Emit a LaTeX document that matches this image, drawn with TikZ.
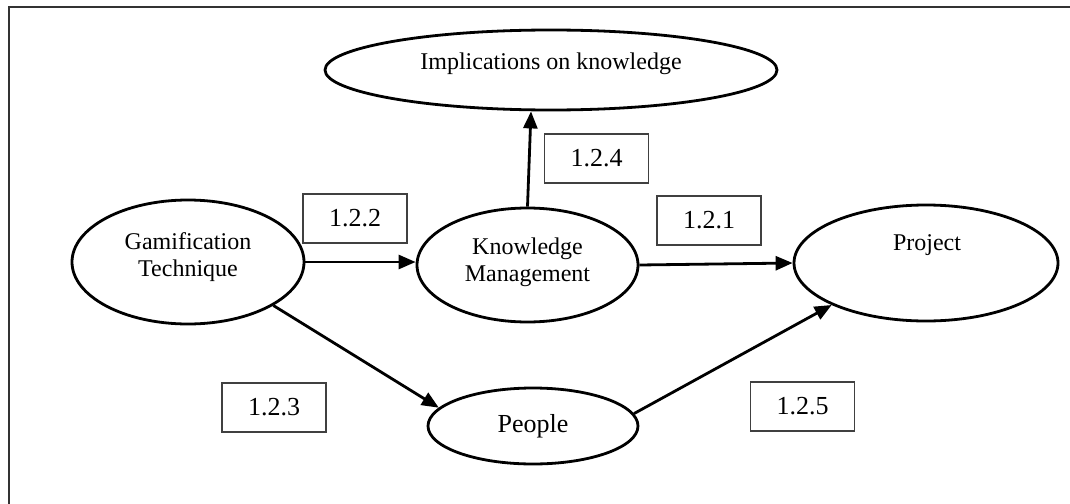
\documentclass[tikz,border=0pt]{standalone}
\usepackage{fontspec}
\setmainfont{Liberation Serif}
\usetikzlibrary{shapes.geometric,arrows.meta,calc}
\begin{document}
\begin{tikzpicture}[x=1pt,y=-1pt,
  oval/.style={ellipse,draw=black,line width=2.8pt,inner sep=0pt,font=\fontsize{24}{27}\selectfont,align=center},
  numbox/.style={rectangle,draw=black!75,line width=1.5pt,minimum width=104pt,minimum height=49pt,inner sep=0pt,font=\fontsize{26}{28}\selectfont},
  arr/.style={line width=2.8pt,-{Triangle[length=17pt,width=14pt]}}]
\clip (0,0) rectangle (1070,503);
\fill[white] (0,0) rectangle (1070,503);
\draw[black!80,line width=2.4pt] (9,7) rectangle (1080,515);
% ellipses
\node[oval,minimum width=452pt,minimum height=80pt] (Impl) at (551,70) {};
\node[font=\fontsize{24}{27}\selectfont] (ImplT) at (551,64) {Implications on knowledge};
\node[oval,minimum width=232pt,minimum height=124pt] (Gam) at (188,262) {};
\node[font=\fontsize{24}{27}\selectfont,align=center] (GamT) at (188,257) {Gamification\\Technique};
\node[oval,minimum width=221pt,minimum height=114pt] (KM) at (527.5,265) {};
\node[font=\fontsize{24}{27}\selectfont,align=center] (KMT) at (527.5,262) {Knowledge\\Management};
\node[oval,minimum width=264pt,minimum height=116pt] (Proj) at (926,263) {};
\node[font=\fontsize{24}{27}\selectfont] (ProjT) at (927,245) {Project};
\node[oval,minimum width=210pt,minimum height=76pt,font=\fontsize{26}{28}\selectfont] (People) at (533,426) {People};
% number boxes
\node[numbox] (b122) at (355,218.5) {1.2.2};
\node[numbox] (b124) at (596.5,158.5) {1.2.4};
\node[numbox] (b121) at (709,220.5) {1.2.1};
\node[numbox] (b123) at (274,407.5) {1.2.3};
\node[numbox] (b125) at (802.5,406.5) {1.2.5};
% connectors
\coordinate (impltip) at ($(Impl.south)+(-20,0)$);
\coordinate (kmtip) at (KM.west |- Gam.east);
\draw[arr] (Gam.east) -- (kmtip);
\draw[arr] (KM.east) -- (Proj.west);
\draw[arr] (KM.north) -- (impltip);
\draw[arr] (Gam.-27) -- (People.169);
\draw[arr] (People.7) -- (Proj.204);
\end{tikzpicture}
\end{document}
